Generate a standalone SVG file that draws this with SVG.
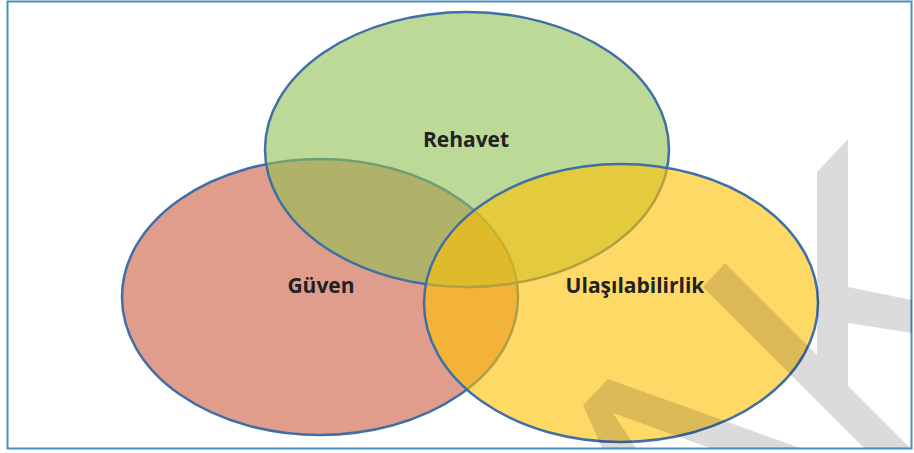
<svg xmlns="http://www.w3.org/2000/svg" width="914" height="453" viewBox="0 0 914 453">
  <style>
    .set { stroke: #3f6fa6; stroke-width: 2.5; fill-opacity: 0.6; }
    .lbl { font-family: "Open Sans", "Liberation Sans", sans-serif; font-weight: bold; font-size: 21px; fill: #222222; text-anchor: middle; }
  </style>
  <rect x="0" y="0" width="914" height="453" fill="#ffffff"/>
  <rect id="frame" x="7.5" y="1.5" width="904" height="447" fill="none" stroke="#4a8fc0" stroke-width="2"/>
  <g id="guven">
    <ellipse class="set" cx="320" cy="297" rx="198" ry="138" fill="#cc5c40"/>
  </g>
  <g id="rehavet">
    <ellipse class="set" cx="467" cy="149.5" rx="202" ry="137.5" fill="#8fc054"/>
  </g>
  <g id="ulasilabilirlik">
    <ellipse class="set" cx="621" cy="303" rx="197" ry="139" fill="#ffc000"/>
  </g>
  <g id="labels">
    <text class="lbl" x="466" y="147">Rehavet</text>
    <text class="lbl" x="321" y="293">Güven</text>
    <text class="lbl" x="635" y="293">Ulaşılabilirlik</text>
  </g>
  <g id="watermark">
    <path fill="#000000" fill-opacity="0.14" d="M817,172 L848,139 L848,386 L817,355 Z M848,287 L912,300 L912,333 L848,323 Z M725,263 L910,448 L864,448 L703,287 Z M608,379 L800,448 L710,448 L613,413 L636,448 L602,448 L583,405 Z"/>
  </g>
</svg>
